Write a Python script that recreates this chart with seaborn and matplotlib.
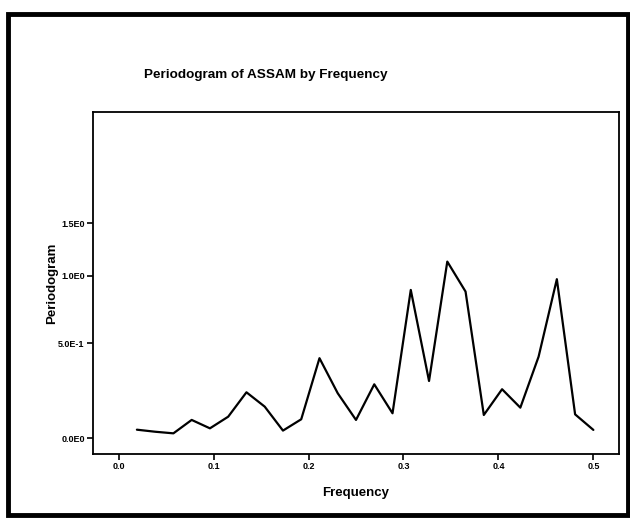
import numpy as np
import pandas as pd
import matplotlib
matplotlib.use("Agg")
import matplotlib.pyplot as plt
from matplotlib.patches import Rectangle
import seaborn as sns

# ---- data ----
frequency = [1/52, 2/52, 3/52, 4/52, 5/52, 6/52, 7/52, 8/52, 9/52, 10/52,
             11/52, 12/52, 13/52, 14/52, 15/52, 16/52, 17/52, 18/52, 19/52, 20/52,
             21/52, 22/52, 23/52, 24/52, 25/52, 26/52]
periodogram = [0.038, 0.029, 0.022, 0.082, 0.044, 0.097, 0.217, 0.145, 0.034, 0.085,
               0.407, 0.212, 0.082, 0.259, 0.113, 0.881, 0.277, 1.122, 0.868, 0.105,
               0.233, 0.140, 0.416, 0.969, 0.108, 0.037]
x_ticks = [0.0, 0.1, 0.2, 0.3, 0.4, 0.5]
x_tick_labels = ["0.0", "0.1", "0.2", "0.3", "0.4", "0.5"]
y_ticks = [0.0, 0.5, 1.0, 1.5]
y_tick_labels = ["0.0E0", "5.0E-1", "1.0E0", "1.5E0"]

df = pd.DataFrame({"Frequency": frequency, "Periodogram": periodogram})

sns.set_style("white")
plt.rcParams["font.family"] = ["Liberation Sans", "DejaVu Sans"]
plt.rcParams["text.color"] = "black"
plt.rcParams["axes.labelcolor"] = "black"

fig = plt.figure(figsize=(6.3, 5.18), dpi=100)
ax = fig.add_axes([93/630, 64/518, 526/630, 342/518])

sns.lineplot(data=df, x="Frequency", y="Periodogram", ax=ax,
             color="black", linewidth=1.6, estimator=None, sort=False)

ax.set_yscale("function", functions=(lambda y: np.log1p(y), lambda y: np.expm1(y)))
ax.set_xlim(-0.027, 0.527)
ax.set_ylim(-0.064, 3.01)
ax.set_xticks(x_ticks)
ax.set_xticklabels(x_tick_labels)
ax.set_yticks(y_ticks)
ax.set_yticklabels(y_tick_labels)
ax.minorticks_off()

ax.tick_params(axis="both", which="major", bottom=True, left=True, direction="out",
               length=4, width=1.2, color="black",
               labelsize=6.5, labelcolor="black", pad=2)
for lab in ax.get_xticklabels() + ax.get_yticklabels():
    lab.set_fontweight("bold")
for sp in ax.spines.values():
    sp.set_visible(True)
    sp.set_color("black")
    sp.set_linewidth(1.3)

ax.set_xlabel("Frequency", fontsize=9.5, fontweight="bold", labelpad=11, color="black")
ax.set_ylabel("Periodogram", fontsize=9.5, fontweight="bold", labelpad=0, color="black")

fig.text(266/630, 1 - 75/518, "Periodogram of ASSAM by Frequency",
         ha="center", va="center", fontsize=9.7, fontweight="bold", color="black")

# outer frame
fig.patches.append(Rectangle((8/630, 3/518), 620/630, 501/518, transform=fig.transFigure,
                             fill=False, edgecolor="black", linewidth=3.5))

fig.savefig("out.png", dpi=100)
